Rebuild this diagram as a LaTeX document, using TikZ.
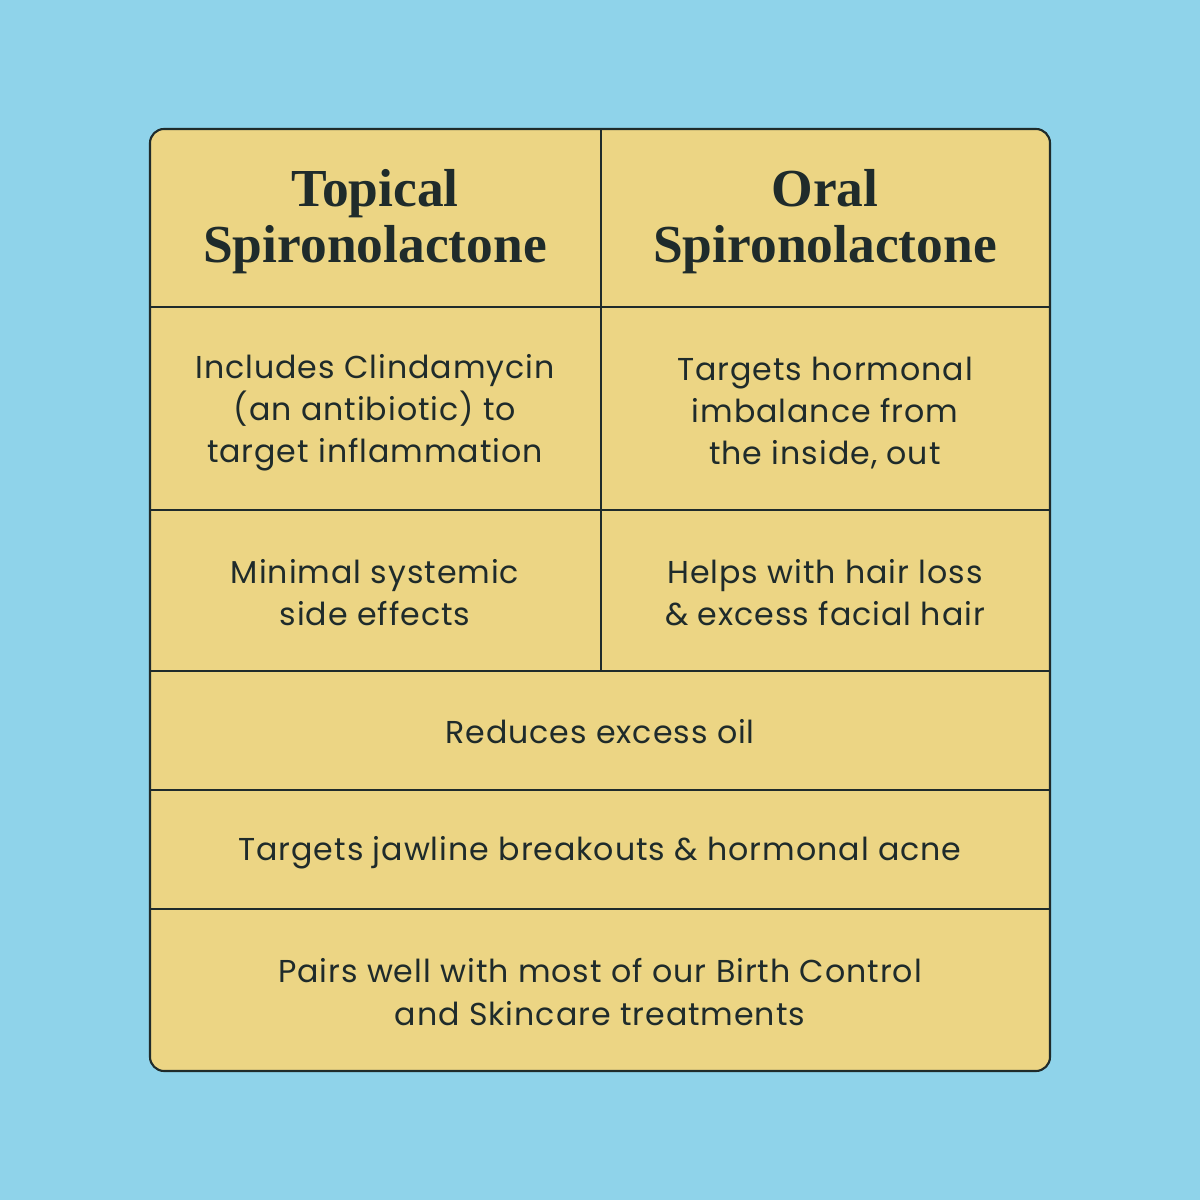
\documentclass[tikz,border=0pt]{standalone}
\usepackage{fontspec}
\setmainfont{Liberation Serif}
\newfontfamily\bodyfont[LetterSpace=3]{Poppins}
\usetikzlibrary{positioning}
\definecolor{skyblue}{HTML}{8FD3EA}
\definecolor{cellyellow}{HTML}{ECD584}
\definecolor{inkdark}{HTML}{1F2B2B}
\tikzset{
  head/.style={text=inkdark, align=center, font=\fontsize{15.2}{16}\selectfont\bfseries},
  cell/.style={text=inkdark, align=center, font=\bodyfont\fontsize{9}{12}\selectfont},
}
\begin{document}
\begin{tikzpicture}[x=0.01cm,y=0.01cm]
\fill[skyblue] (0,0) rectangle (1200,1200);
\useasboundingbox (0,0) rectangle (1200,1200);
% table frame
\filldraw[fill=cellyellow, draw=inkdark, line width=0.6pt, rounded corners=4pt] (150,129) rectangle (1050,1071);
\draw[inkdark, line width=0.6pt] (150,893) -- (1050,893);
\draw[inkdark, line width=0.6pt] (150,690) -- (1050,690);
\draw[inkdark, line width=0.6pt] (150,529) -- (1050,529);
\draw[inkdark, line width=0.6pt] (150,410) -- (1050,410);
\draw[inkdark, line width=0.6pt] (150,291) -- (1050,291);
\draw[inkdark, line width=0.6pt] (601,1071) -- (601,529);
% headers
\node[head] (topical) at (375,978) {Topical\\Spironolactone};
\node[head] (oral) at (825,978) {Oral\\Spironolactone};
% rows
\node[cell] (clinda) at (375,787) {Includes Clindamycin\\(an antibiotic) to\\target inflammation};
\node[cell] (hormon) at (825,787) {Targets hormonal\\imbalance from\\the inside, out};
\node[cell] (minimal) at (375,607) {Minimal systemic\\side effects};
\node[cell] (hair) at (825,607) {Helps with hair loss\\\& excess facial hair};
\node[cell] (oil) at (600,468) {Reduces excess oil};
\node[cell] (jaw) at (600,347) {Targets jawline breakouts \& hormonal acne};
\node[cell] (pairs) at (600,208) {Pairs well with most of our Birth Control\\and Skincare treatments};
\end{tikzpicture}
\end{document}
